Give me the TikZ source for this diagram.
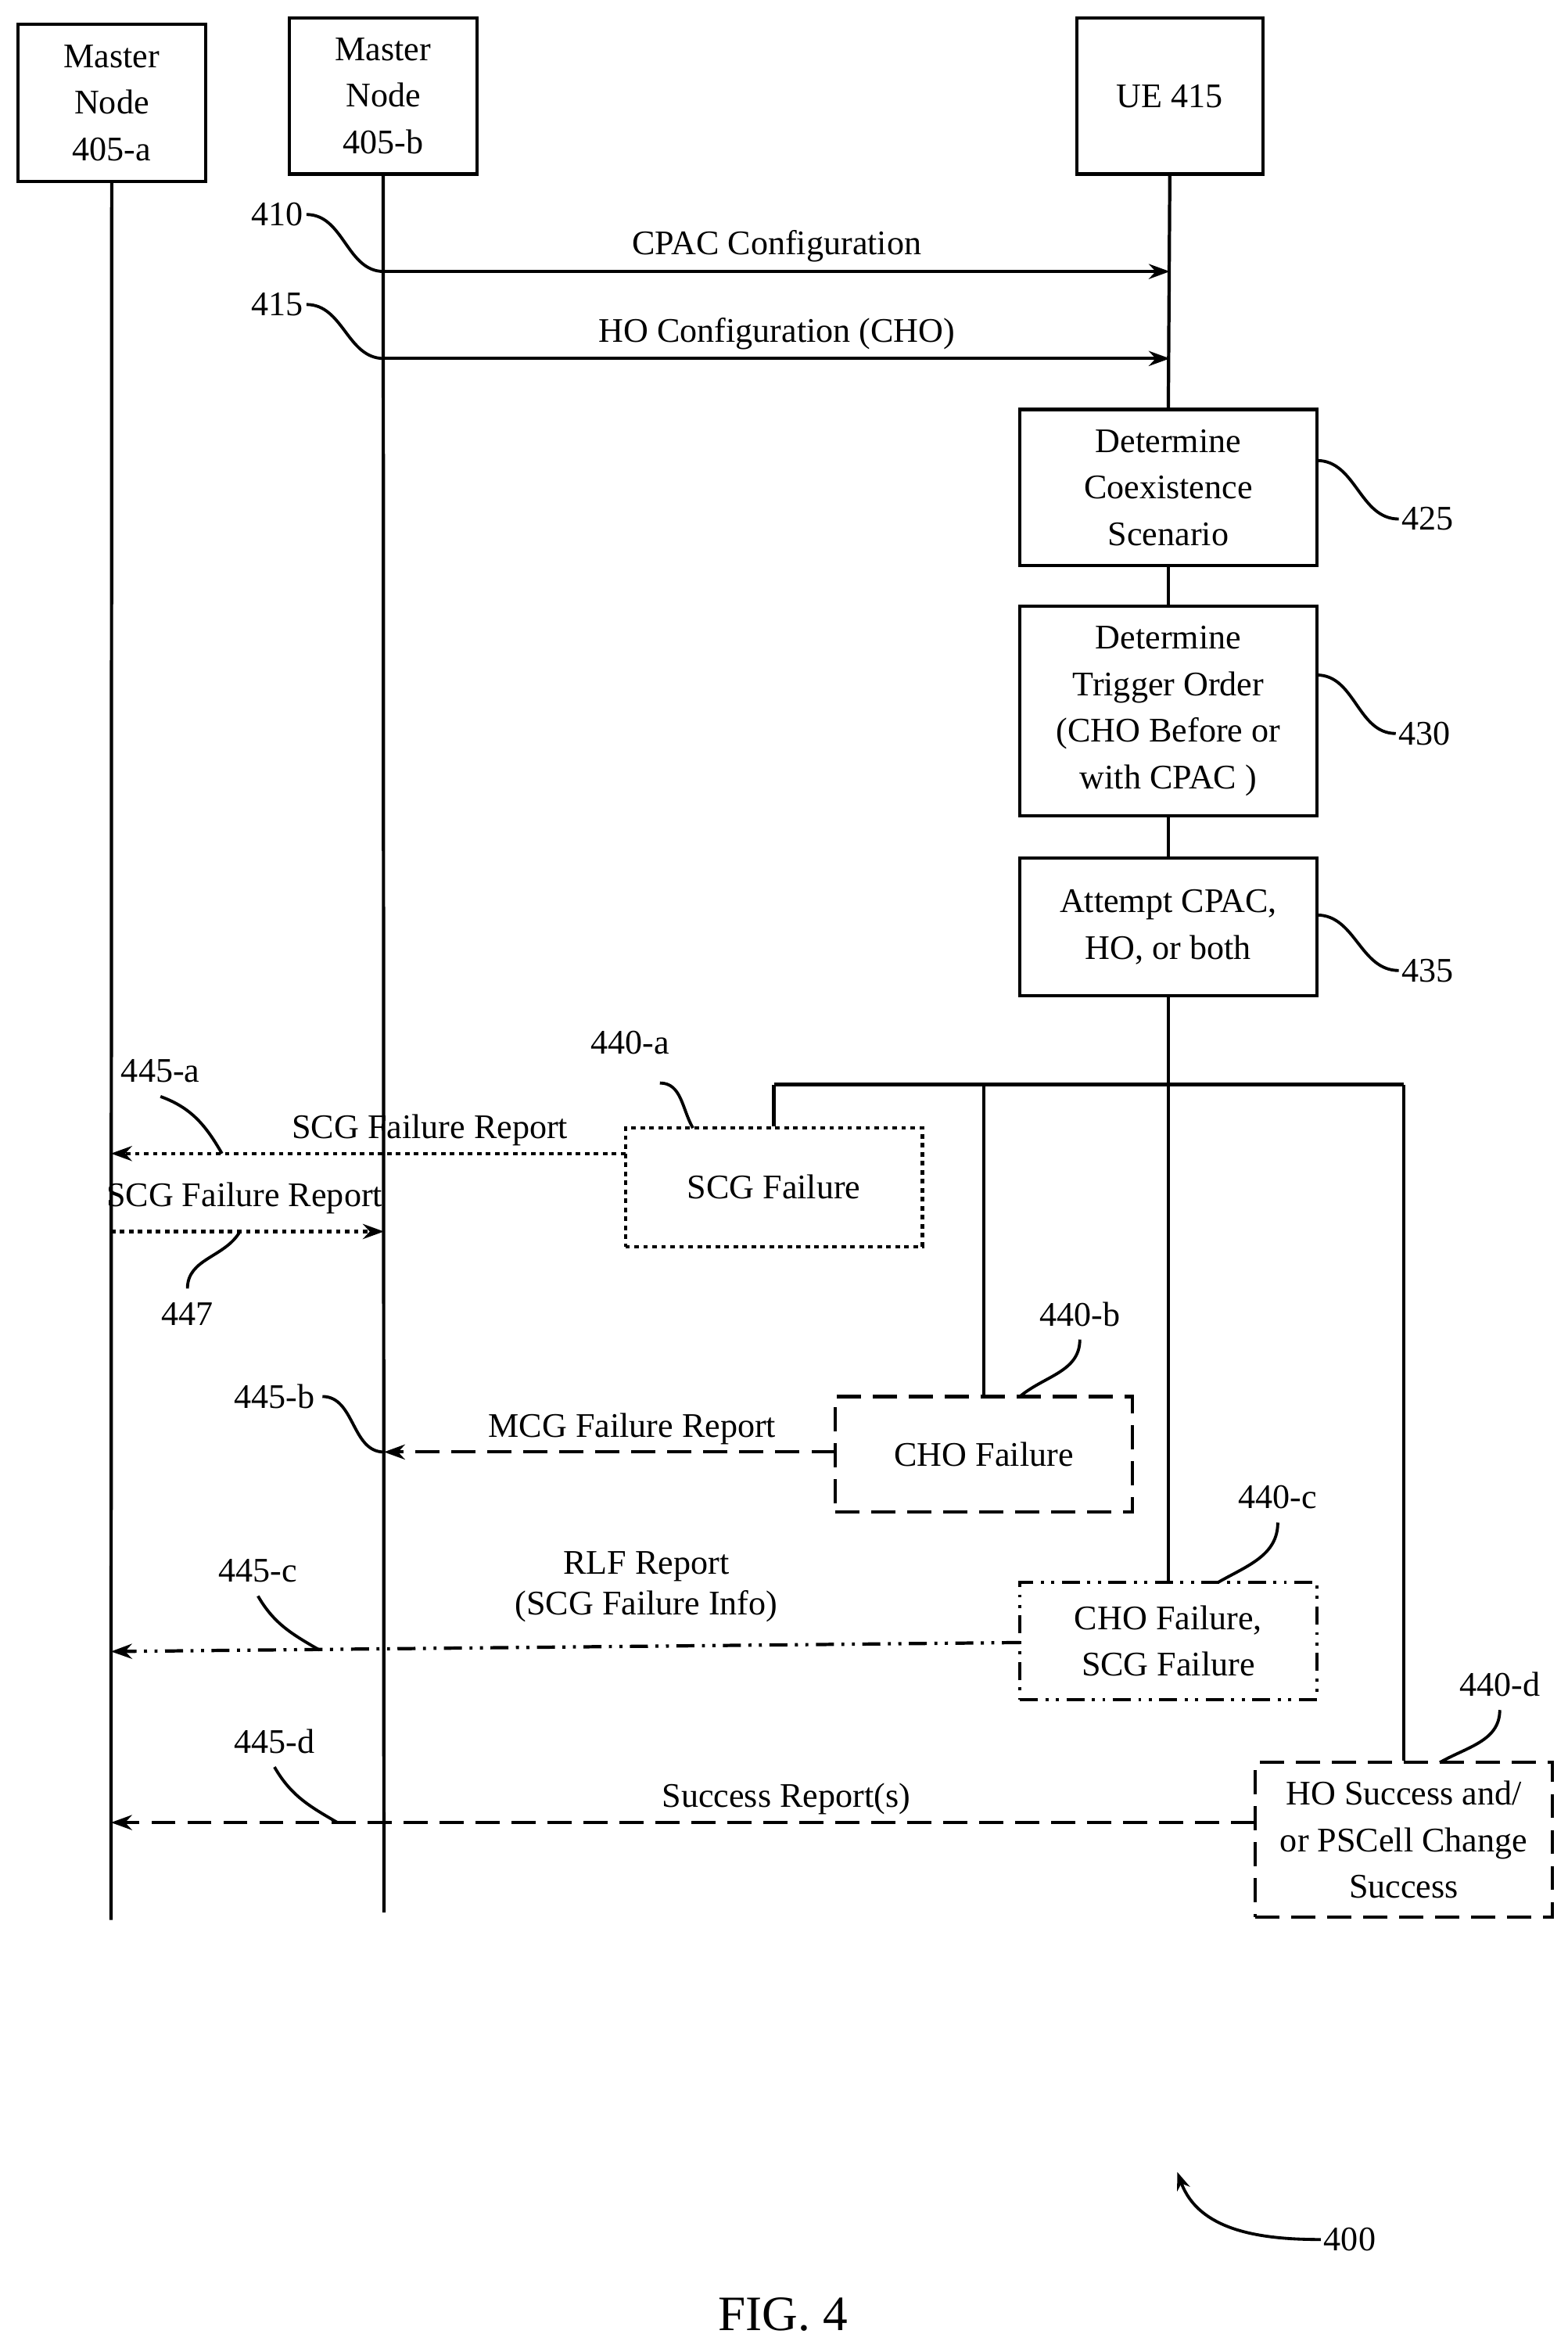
\documentclass[tikz,border=0pt]{standalone}
\usepackage{fontspec}
\setmainfont{Liberation Serif}
\usetikzlibrary{arrows.meta}
\begin{document}
\begin{tikzpicture}[x=1pt,y=-1pt,line width=2.2pt,
  txt/.style={font=\fontsize{23}{27}\selectfont,inner sep=1pt,align=center},
  box/.style={draw,line width=2.2pt,minimum width=198pt,align=center,font=\fontsize{23}{31}\selectfont,inner sep=0pt},
  arr/.style={-{Stealth[length=14pt,width=10pt]}},
  dot/.style={dash pattern=on 3pt off 3pt},
  dsh/.style={dash pattern=on 16pt off 8pt},
  ddot/.style={dash pattern=on 12pt off 5pt on 2pt off 5pt on 2pt off 5pt},
  sq/.style={line width=2pt}]
\useasboundingbox (0,0) rectangle (1045,1568);
% header boxes
\node[box,minimum width=125pt,minimum height=105pt] (mna) at (74.5,68.5) {Master\\Node\\405-a};
\node[box,minimum width=125pt,minimum height=104pt] (mnb) at (255.5,64) {Master\\Node\\405-b};
\node[box,minimum width=124pt,minimum height=104pt] (ue) at (780,64) {UE 415};
\coordinate (la) at (74,1280); \coordinate (lb) at (256,1275);
\draw (mna.south) -- (la);
\draw (mnb.south) -- (lb);
% UE steps
\node[box,minimum height=104pt] (b425) at (779,325) {Determine\\Coexistence\\Scenario};
\node[box,minimum height=140pt] (b430) at (779,474) {Determine\\Trigger Order\\(CHO Before or\\with CPAC )};
\node[box,minimum height=92pt] (b435) at (779,618) {Attempt CPAC,\\HO, or both};
\draw (ue.south) -- (b425.north);
\draw (b425.south) -- (b430.north);
\draw (b430.south) -- (b435.north);
% config arrows
\coordinate (s410) at (256,181); \coordinate (e410) at (780,181);
\coordinate (s415) at (256,239); \coordinate (e415) at (780,239);
\draw[arr] (s410) -- node[txt,above=4pt]{CPAC Configuration} (e410);
\draw[arr] (s415) -- node[txt,above=4pt]{HO Configuration (CHO)} (e415);
\node[txt] (n410) at (185,143) {410};
\node[txt] (n415) at (185,203) {415};
\draw[sq] (n410.east) to[out=0,in=180] (s410);
\draw[sq] (n415.east) to[out=0,in=180] (s415);
\node[txt] (n425) at (952,346) {425};
\node[txt] (n430) at (950,489) {430};
\node[txt] (n435) at (952,647) {435};
\draw[sq] (878,307) to[out=0,in=180] (n425.west);
\draw[sq] (878,450) to[out=0,in=180] (n430.west);
\draw[sq] (878,610) to[out=0,in=180] (n435.west);
% outcome boxes
\node[box,dot,minimum height=79pt] (b440a) at (516,791.5) {SCG Failure};
\node[box,dsh,minimum height=77pt] (b440b) at (656,969.5) {CHO Failure};
\node[box,ddot,minimum height=78pt] (b440c) at (779,1094) {CHO Failure,\\SCG Failure};
\node[box,dsh,minimum height=103pt] (b440d) at (936,1226.5) {HO Success and/\\or PSCell Change\\Success};
% branch
\coordinate (ba) at (516,723); \coordinate (bd) at (936,723);
\coordinate (bb) at (656,723); \coordinate (bc) at (779,723);
\draw (ba) -- (bd);
\draw (ba) -- (b440a.north);
\draw (bb) -- (b440b.north);
\draw (b435.south) -- (b440c.north);
\draw (bd) -- (b440d.north);
% failure reports
\coordinate (a445a) at (74,769); \coordinate (s445a) at (417,769);
\draw[arr,dot] (s445a) -- node[txt,above=3pt,pos=0.38]{SCG Failure Report} (a445a);
\coordinate (s447) at (74,821); \coordinate (e447) at (256,821);
\draw[arr,dot] (s447) -- (e447);
\node[txt] at (163,799) {SCG Failure Report};
\coordinate (s445b) at (557,968); \coordinate (e445b) at (256,968);
\draw[arr,dsh] (s445b) -- node[txt,above=3pt,pos=0.45]{MCG Failure Report} (e445b);
\coordinate (s445c) at (680,1095); \coordinate (e445c) at (74,1101);
\draw[arr,ddot] (s445c) -- (e445c);
\node[txt] at (431,1058) {RLF Report\\(SCG Failure Info)};
\coordinate (s445d) at (837,1215); \coordinate (e445d) at (74,1215);
\draw[arr,dsh] (s445d) -- node[txt,above=3pt,pos=0.41]{Success Report(s)} (e445d);
% labels
\node[txt] (n440a) at (420,695) {440-a};
\node[txt] (n440b) at (720,876) {440-b};
\node[txt] (n440c) at (852,998) {440-c};
\node[txt] (n440d) at (1000,1123) {440-d};
\node[txt] (n445a) at (107,714) {445-a};
\node[txt] (n447) at (125,876) {447};
\node[txt] (n445b) at (183,931) {445-b};
\node[txt] (n445c) at (172,1047) {445-c};
\node[txt] (n445d) at (183,1161) {445-d};
\draw[sq] (440,722) to[out=0,in=120] (462,752);
\draw[sq] (720,893) to[out=-90,in=40] (680,931);
\draw[sq] (852,1015) to[out=-90,in=30] (812,1055);
\draw[sq] (1000,1140) to[out=-90,in=30] (960,1175);
\draw[sq] (107,731) to[out=-20,in=120] (148,769);
\draw[sq] (125,859) to[out=90,in=-120] (160,821);
\draw[sq] (215,931) to[out=0,in=180] (256,968);
\draw[sq] (172,1064) to[out=-60,in=150] (213,1100);
\draw[sq] (183,1178) to[out=-60,in=150] (225,1215);
% figure label
\node[txt] (n400) at (900,1493) {400};
\draw[sq,-{Stealth[length=12pt,width=9pt]}] (n400.west) to[out=180,in=-70] (785,1448);
\node[txt,font=\fontsize{33}{36}\selectfont] at (522,1543) {FIG. 4};
\end{tikzpicture}
\end{document}
